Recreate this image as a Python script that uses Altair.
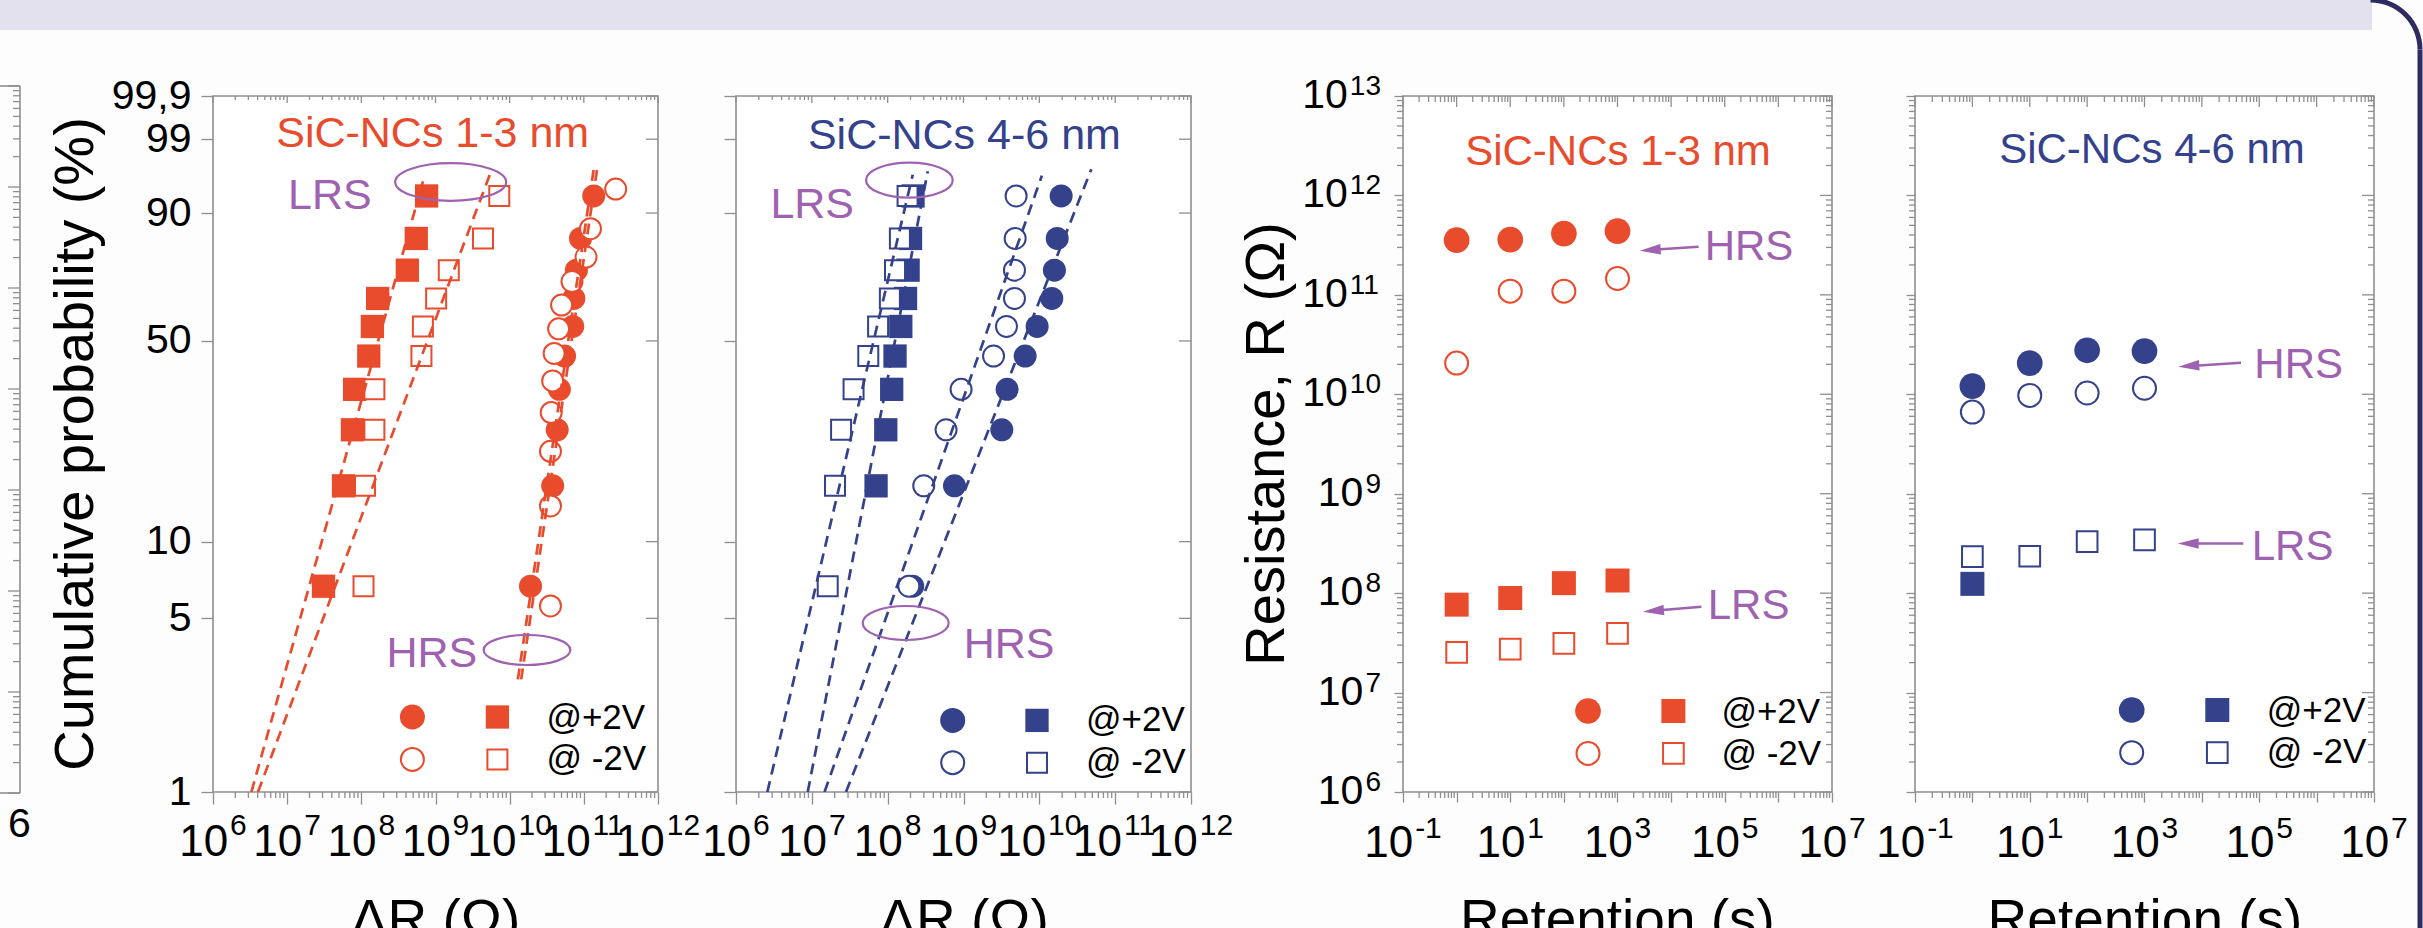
import math
import numpy as np
import pandas as pd
import altair as alt

FONT = "Liberation Sans"
RED = "#e94b2d"
BLUE = "#34428c"
PURPLE = "#9e62b0"
FRAME = "#8f8f8f"
BAND = "#e4e1ef"
NAVY = "#2e2b5f"
BG = "#fdfdfd"

# ---------------- data ----------------
# cumulative probability levels (%)
prob10 = [6.7, 16.3, 26.0, 35.6, 45.2, 54.8, 64.4, 74.0, 83.7, 93.3]
prob12 = [5.6, 13.7, 21.8, 29.8, 37.9, 46.0, 54.0, 62.1, 70.2, 78.2, 86.3, 94.4]

# SiC-NCs 1-3 nm : ΔR (Ω)
a_lrs_pos = [3.09e7, 5.75e7, 7.59e7, 8.13e7, 1.26e8, 1.41e8, 1.66e8, 4.17e8, 5.50e8, 7.59e8]
a_lrs_neg = [1.07e8, 1.12e8, 1.50e8, 1.50e8, 6.46e8, 6.76e8, 1.02e9, 1.51e9, 4.37e9, 7.24e9]
a_hrs_pos = [1.91e10, 3.80e10, 4.37e10, 4.68e10, 5.50e10, 7.08e10, 7.33e10, 7.94e10, 9.02e10, 1.36e11]
a_hrs_neg = [3.55e10, 3.55e10, 3.55e10, 3.63e10, 3.80e10, 3.98e10, 4.57e10, 5.01e10, 6.92e10, 1.07e11, 1.23e11, 2.69e11]
a_fit_R0 = [3.29e6, 4.04e6, 1.29e10, 1.43e10]
a_fit_P0 = [1.0, 1.0, 2.85, 2.85]
a_fit_R1 = [6.79e8, 5.75e9, 1.36e11, 1.51e11]
a_fit_P1 = [95.5, 96.9, 96.9, 96.9]

# SiC-NCs 4-6 nm : ΔR (Ω)
b_lrs_pos = [7.03e7, 9.44e7, 1.13e8, 1.25e8, 1.49e8, 1.72e8, 1.86e8, 2.00e8, 2.16e8]
b_lrs_neg = [1.62e7, 2.02e7, 2.43e7, 3.55e7, 5.55e7, 7.48e7, 1.07e8, 1.25e8, 1.45e8, 1.83e8]
b_hrs_pos = [2.14e8, 7.60e8, 3.20e9, 3.76e9, 6.50e9, 9.35e9, 1.46e10, 1.58e10, 1.72e10, 1.94e10]
b_hrs_neg = [1.90e8, 2.99e8, 5.89e8, 9.29e8, 2.49e9, 3.69e9, 4.70e9, 4.70e9, 4.80e9, 4.94e9]
b_fit_R0 = [2.59e6, 8.83e6, 1.47e7, 2.82e7]
b_fit_P0 = [1.0, 1.0, 1.0, 1.0]
b_fit_R1 = [2.14e8, 3.38e8, 1.08e10, 4.85e10]
b_fit_P1 = [96.3, 96.7, 96.2, 96.9]

# retention (s) vs resistance (Ω)
ret_t = [1, 10, 100, 1000]
c_hrs_pos = [3.55e11, 3.60e11, 4.13e11, 4.37e11]
c_hrs_neg = [2.06e10, 1.09e11, 1.09e11, 1.46e11]
c_lrs_pos = [7.66e7, 8.93e7, 1.26e8, 1.34e8]
c_lrs_neg = [2.54e7, 2.74e7, 3.13e7, 3.94e7]
d_hrs_pos = [1.21e10, 2.06e10, 2.77e10, 2.72e10]
d_hrs_neg = [6.62e9, 9.75e9, 1.03e10, 1.15e10]
d_lrs_pos_t = [1]
d_lrs_pos = [1.24e8]
d_lrs_neg = [2.33e8, 2.35e8, 3.30e8, 3.43e8]

prob_ticks = [1, 5, 10, 50, 90, 99, 99.9]
prob_labels = ["1", "5", "10", "50", "90", "99", "99,9"]

# ---------------- helpers ----------------
H = 696
ONE = pd.DataFrame({"a": [0]})


def weib(p):
    return float(np.log(-np.log(1.0 - p / 100.0)))


pw = [weib(p) for p in prob_ticks]
dec_w = [10.0 ** k for k in range(6, 13)]
min_w = [m * 10.0 ** k for k in range(6, 12) for m in range(2, 10)]
dec_r = [10.0 ** k for k in range(-1, 8)]
min_r = [m * 10.0 ** k for k in range(-1, 7) for m in range(2, 10)]
dec_ry = [10.0 ** k for k in range(6, 14)]
min_ry = [m * 10.0 ** k for k in range(6, 13) for m in range(2, 10)]

XW = alt.Scale(type="log", domain=[1e6, 1e12], nice=False)
YW = alt.Scale(type="linear", domain=[weib(1), weib(99.9)], nice=False, zero=False)
XR = alt.Scale(type="log", domain=[0.1, 1e7], nice=False)
YR = alt.Scale(type="log", domain=[1e6, 1e13], nice=False)


def label_expr(vals, labels):
    return " : ".join(f"abs(datum.value - ({v:.6f})) < 0.001 ? '{l}'" for v, l in zip(vals, labels)) + " : ''"


def tick_axis(values, size):
    return alt.Axis(values=values, tickSize=size, tickColor=FRAME, tickWidth=1.3,
                    domain=False, grid=False, labels=False, title=None)


def vrule(vals, X, y0, y1):
    return alt.Chart(pd.DataFrame({"x": vals})).mark_rule(color=FRAME, strokeWidth=1.3).encode(
        x=X, y=alt.value(y0), y2=alt.value(y1))


def hrule(vals, Y, x0, x1):
    return alt.Chart(pd.DataFrame({"y": vals})).mark_rule(color=FRAME, strokeWidth=1.3).encode(
        y=Y, x=alt.value(x0), x2=alt.value(x1))


def _pt(chart, shape, color, hollow, size):
    if hollow:
        return chart.mark_point(shape=shape, filled=True, fill="white", stroke=color,
                                strokeWidth=2, size=size, opacity=1)
    return chart.mark_point(shape=shape, filled=True, fill=color, strokeWidth=0, size=size, opacity=1)


def markers(xs, ys, shape, color, hollow, size, X, Y):
    df = pd.DataFrame({"x": xs, "y": ys})
    return _pt(alt.Chart(df), shape, color, hollow, size).encode(x=X, y=Y)


def sym(x, y, shape, color, hollow, size):
    return _pt(alt.Chart(ONE), shape, color, hollow, size).encode(x=alt.value(x), y=alt.value(y))


def T(s, x, y, color="black", fs=41, align="left", baseline="alphabetic", angle=0):
    return alt.Chart(ONE).mark_text(text=s, font=FONT, fontSize=fs, color=color, align=align,
                                    baseline=baseline, angle=angle).encode(x=alt.value(x), y=alt.value(y))


def ELL(cx, cy, w, h):
    r = h / w
    path = f"M -1 0 A 1 {r:.4f} 0 1 1 1 0 A 1 {r:.4f} 0 1 1 -1 0 Z"
    return alt.Chart(ONE).mark_point(shape=path, size=w * w, filled=False, color=PURPLE, stroke=PURPLE,
                                     strokeWidth=2.2, opacity=1).encode(x=alt.value(cx), y=alt.value(cy))


def ARROW(tx, ty, sx, sy, L=21):
    dx, dy = sx - tx, sy - ty
    n = math.hypot(dx, dy)
    ux, uy = dx / n, dy / n
    ang = math.degrees(math.atan2(uy, ux)) % 360
    head = alt.Chart(ONE).mark_point(shape="M -1 0 L 1 -0.5 L 1 0.5 Z", size=L * L, filled=True,
                                     fill=PURPLE, strokeWidth=0, opacity=1, angle=ang).encode(
        x=alt.value(tx + ux * L / 2), y=alt.value(ty + uy * L / 2))
    shaft = alt.Chart(ONE).mark_rule(color=PURPLE, strokeWidth=2.5).encode(
        x=alt.value(tx + ux * L * 0.8), y=alt.value(ty + uy * L * 0.8), x2=alt.value(sx), y2=alt.value(sy))
    return [shaft, head]


def _groups(exps, fse):
    g = {}
    for e in exps:
        s = str(e)
        w = sum(0.333 if c == "-" else 0.556 for c in s) * fse
        g.setdefault(round(w, 3), []).append(e)
    return g


def xlabels(exps, X_of, fsb, fse, yb, ye):
    wb = 1.112 * fsb
    out = []
    for w, es in _groups(exps, fse).items():
        df = pd.DataFrame({"x": [10.0 ** e for e in es], "e": [str(e) for e in es]})
        tot = wb + 2 + w
        out.append(alt.Chart(df).mark_text(text="10", font=FONT, fontSize=fsb, color="black", align="center",
                                           baseline="alphabetic", dx=-tot / 2 + wb / 2)
                   .encode(x=X_of(), y=alt.value(H + yb)))
        out.append(alt.Chart(df).mark_text(font=FONT, fontSize=fse, color="black", align="left",
                                           baseline="alphabetic", dx=-tot / 2 + wb + 2)
                   .encode(x=X_of(), y=alt.value(H + ye), text="e:N"))
    return out


def ylabels(exps, Y_of, fsb, fse, gap):
    out = []
    for w, es in _groups(exps, fse).items():
        df = pd.DataFrame({"y": [10.0 ** e for e in es], "e": [str(e) for e in es]})
        out.append(alt.Chart(df).mark_text(text="10", font=FONT, fontSize=fsb, color="black", align="right",
                                           baseline="middle").encode(x=alt.value(-(gap + w + 2)), y=Y_of()))
        out.append(alt.Chart(df).mark_text(font=FONT, fontSize=fse, color="black", align="left",
                                           baseline="alphabetic", dy=-1)
                   .encode(x=alt.value(-(gap + w)), y=Y_of(), text="e:N"))
    return out


def legend(cx, sx, y1, y2, tx, b1, b2, color, csz, ssz, hcsz, hssz):
    return [sym(cx, y1, "circle", color, False, csz), sym(sx, y1, "square", color, False, ssz),
            sym(cx, y2, "circle", color, True, hcsz), sym(sx, y2, "square", color, True, hssz),
            T("@+2V", tx, b1, fs=35), T("@ -2V", tx, b2, fs=35)]


VIEW = alt.ViewBackground(fill="white", stroke=FRAME, strokeWidth=1.6)


def weib_panel(Wd, color, series, fit, with_ylabels, ann):
    axx = tick_axis(dec_w, 12)
    if with_ylabels:
        axy = alt.Axis(values=pw, tickSize=12, tickColor=FRAME, tickWidth=1.3, domain=False, grid=False,
                       title=None, labelExpr=label_expr(pw, prob_labels), labelFont=FONT, labelFontSize=41,
                       labelColor="black", labelPadding=10, labelFlush=False, labelOverlap=False)
    else:
        axy = tick_axis(pw, 12)

    def Xf():
        return alt.X("x:Q", scale=XW, axis=axx)

    def Yf():
        return alt.Y("y:Q", scale=YW, axis=axy)

    L = [vrule(dec_w, Xf(), 0, 7), vrule(min_w, Xf(), 0, 4), vrule(min_w, Xf(), H, H + 6),
         hrule(pw, Yf(), Wd - 12, Wd)]
    for xs, ps, shape, hollow, size in series:
        L.append(markers(xs, [weib(p) for p in ps], shape, color, hollow, size, Xf(), Yf()))
    rows = []
    for i, (r0, q0, r1, q1) in enumerate(zip(*fit)):
        rows += [{"x": r0, "y": weib(q0), "g": i}, {"x": r1, "y": weib(q1), "g": i}]
    L.append(alt.Chart(pd.DataFrame(rows)).mark_line(color=color, strokeWidth=2.7, strokeDash=[11, 7], clip=True)
             .encode(x=Xf(), y=Yf(), detail="g:N"))
    L += xlabels(list(range(6, 13)), Xf, 44, 30, 64, 43)
    L += ann
    return alt.layer(*L).properties(width=Wd, height=H, view=VIEW)


def ret_panel(Wd, color, series, with_ylabels, ann):
    axx = tick_axis(dec_r, 10)
    axy = tick_axis(dec_ry, 9)

    def Xf():
        return alt.X("x:Q", scale=XR, axis=axx)

    def Yf():
        return alt.Y("y:Q", scale=YR, axis=axy)

    L = [vrule(dec_r, Xf(), 0, 11), vrule(min_r, Xf(), 0, 6), vrule(min_r, Xf(), H, H + 6),
         hrule(dec_ry, Yf(), Wd - 12, Wd), hrule(min_ry, Yf(), Wd - 6, Wd), hrule(min_ry, Yf(), -6, 0)]
    for xs, ys, shape, hollow, size in series:
        L.append(markers(xs, ys, shape, color, hollow, size, Xf(), Yf()))
    L += xlabels([-1, 1, 3, 5, 7], Xf, 44, 30, 65, 46)
    if with_ylabels:
        L += ylabels(list(range(6, 14)), Yf, 41, 28, 22)
    L += ann
    return alt.layer(*L).properties(width=Wd, height=H, view=VIEW)


# ---------------- panels ----------------
W1, W2, W3, W4 = 445, 455, 429, 459
# symbol areas (Vega: circle diameter = sqrt(size), square side = sqrt(size))
SC, SS, HC, HS = 529, 543, 441, 400          # distribution panels
LC, LHC = 625, 529                            # distribution legend circles
RC, RS, RHC, RHS = 660, 576, 529, 428        # retention panels

ann1 = [T("SiC-NCs 1-3 nm", 219.7, 51, RED, 43, "center"),
        T("LRS", 75, 112.7, PURPLE, 43), ELL(237.7, 86, 111, 37.7),
        T("HRS", 173.4, 570.7, PURPLE, 43), ELL(314, 554, 86.7, 30),
        T("Cumulative probability (%)", -137, 348, "black", 56, "center", "middle", 270),
        T("ΔR (Ω)", 222.5, H + 146, "black", 55, "center")]
ann1 += legend(199.4, 284.4, 621, 663.4, 333.4, 632.7, 674.4, RED, LC, SS, LHC, HS)
p1 = weib_panel(W1, RED,
                [(a_lrs_pos, prob10, "square", False, SS), (a_hrs_pos, prob10, "circle", False, SC),
                 (a_lrs_neg, prob10, "square", True, HS), (a_hrs_neg, prob12, "circle", True, HC)],
                (a_fit_R0, a_fit_P0, a_fit_R1, a_fit_P1), True, ann1)

ann2 = [T("SiC-NCs 4-6 nm", 228.4, 52.7, BLUE, 43, "center"),
        T("LRS", 34.4, 122.4, PURPLE, 43), ELL(173.4, 84.2, 86.7, 35),
        T("HRS", 227.7, 562.4, PURPLE, 43), ELL(169.7, 527, 86, 34),
        T("ΔR (Ω)", 228, H + 146, "black", 55, "center")]
ann2 += legend(216.7, 301, 624.4, 666.7, 350, 635, 676.7, BLUE, LC, SS, LHC, HS)
p2 = weib_panel(W2, BLUE,
                [(b_lrs_pos, prob10[1:], "square", False, SS), (b_hrs_pos, prob10, "circle", False, SC),
                 (b_lrs_neg, prob10, "square", True, HS), (b_hrs_neg, prob10, "circle", True, HC)],
                (b_fit_R0, b_fit_P0, b_fit_R1, b_fit_P1), False, ann2)

ann3 = [T("SiC-NCs 1-3 nm", 215, 69, RED, 42, "center"),
        T("HRS", 301.7, 164, PURPLE, 42), T("LRS", 304.7, 523.4, PURPLE, 42),
        T("Resistance, R (Ω)", -136, 348, "black", 56, "center", "middle", 270),
        T("Retention (s)", 214.5, H + 146, "black", 55, "center")]
ann3 += ARROW(236.7, 154.7, 295.7, 150.7) + ARROW(240, 515.7, 298.4, 510.7)
ann3 += legend(185, 270.4, 615, 657.4, 318.4, 627.4, 669, RED, RC, RS, RHC, RHS)
p3 = ret_panel(W3, RED,
               [(ret_t, c_hrs_pos, "circle", False, RC), (ret_t, c_lrs_pos, "square", False, RS),
                (ret_t, c_hrs_neg, "circle", True, RHC), (ret_t, c_lrs_neg, "square", True, RHS)],
               True, ann3)

ann4 = [T("SiC-NCs 4-6 nm", 237, 66.7, BLUE, 42, "center"),
        T("HRS", 339.3, 282.4, PURPLE, 42), T("LRS", 336.7, 464, PURPLE, 42),
        T("Retention (s)", 230, H + 146, "black", 55, "center")]
ann4 += ARROW(263.3, 270.7, 326, 266.7) + ARROW(262.7, 447.4, 328.3, 447.4)
ann4 += legend(216.7, 302.3, 614, 656.7, 351.7, 625.7, 667.4, BLUE, RC, RS, RHC, RHS)
# frame decoration on the right edge
ann4 += [alt.Chart(ONE).mark_rule(color=NAVY, strokeWidth=5).encode(
             x=alt.value(505), y=alt.value(-46.5), y2=alt.value(832)),
         alt.Chart(ONE).mark_arc(theta=0, theta2=math.pi / 2, radius=52, radius2=47, color=NAVY).encode(
             x=alt.value(455.5), y=alt.value(-46.5))]
p4 = ret_panel(W4, BLUE,
               [(ret_t, d_hrs_pos, "circle", False, RC), (d_lrs_pos_t, d_lrs_pos, "square", False, RS),
                (ret_t, d_hrs_neg, "circle", True, RHC), (ret_t, d_lrs_neg, "square", True, RHS)],
               False, ann4)

# left partial panel (cut by the image edge) + header band
LS = alt.Scale(type="log", domain=[1, 1e7], range=[697, -10], nice=False)


def Yl():
    return alt.Y("y:Q", scale=LS, axis=None)


left_major = [10.0 ** k for k in range(0, 8)]
left_minor = [m * 10.0 ** k for k in range(0, 7) for m in range(2, 10)]
c0 = [alt.Chart(ONE).mark_rect(color=BAND).encode(x=alt.value(0), x2=alt.value(2372),
                                                 y=alt.value(-96), y2=alt.value(-66)),
      alt.Chart(ONE).mark_rule(color=FRAME, strokeWidth=1.6).encode(x=alt.value(20), y=alt.value(-10),
                                                                    y2=alt.value(697)),
      alt.Chart(ONE).mark_rule(color=FRAME, strokeWidth=1.6).encode(x=alt.value(0), x2=alt.value(20),
                                                                    y=alt.value(-10)),
      alt.Chart(ONE).mark_rule(color=FRAME, strokeWidth=1.6).encode(x=alt.value(0), x2=alt.value(20),
                                                                    y=alt.value(697)),
      hrule(left_major, Yl(), 8, 20), hrule(left_minor, Yl(), 13, 20),
      T("6", 19.4, 741, "black", 41, "center")]
cell0 = alt.layer(*c0).properties(width=213, height=H)


def gap(w):
    return alt.Chart(ONE).mark_rect(opacity=0).encode(
        x=alt.value(0), x2=alt.value(1), y=alt.value(0), y2=alt.value(1)).properties(width=w, height=H)


chart = alt.hconcat(cell0, p1, gap(78), p2, gap(212), p3, gap(83), p4, spacing=0, bounds="flush").properties(
    autosize=alt.AutoSizeParams(type="none"),
    padding={"left": 0, "top": 96, "right": 2423, "bottom": 832},
    background=BG,
).configure_view(stroke=None)

chart.save("out.html", embed_options={"renderer": "svg", "actions": False})
